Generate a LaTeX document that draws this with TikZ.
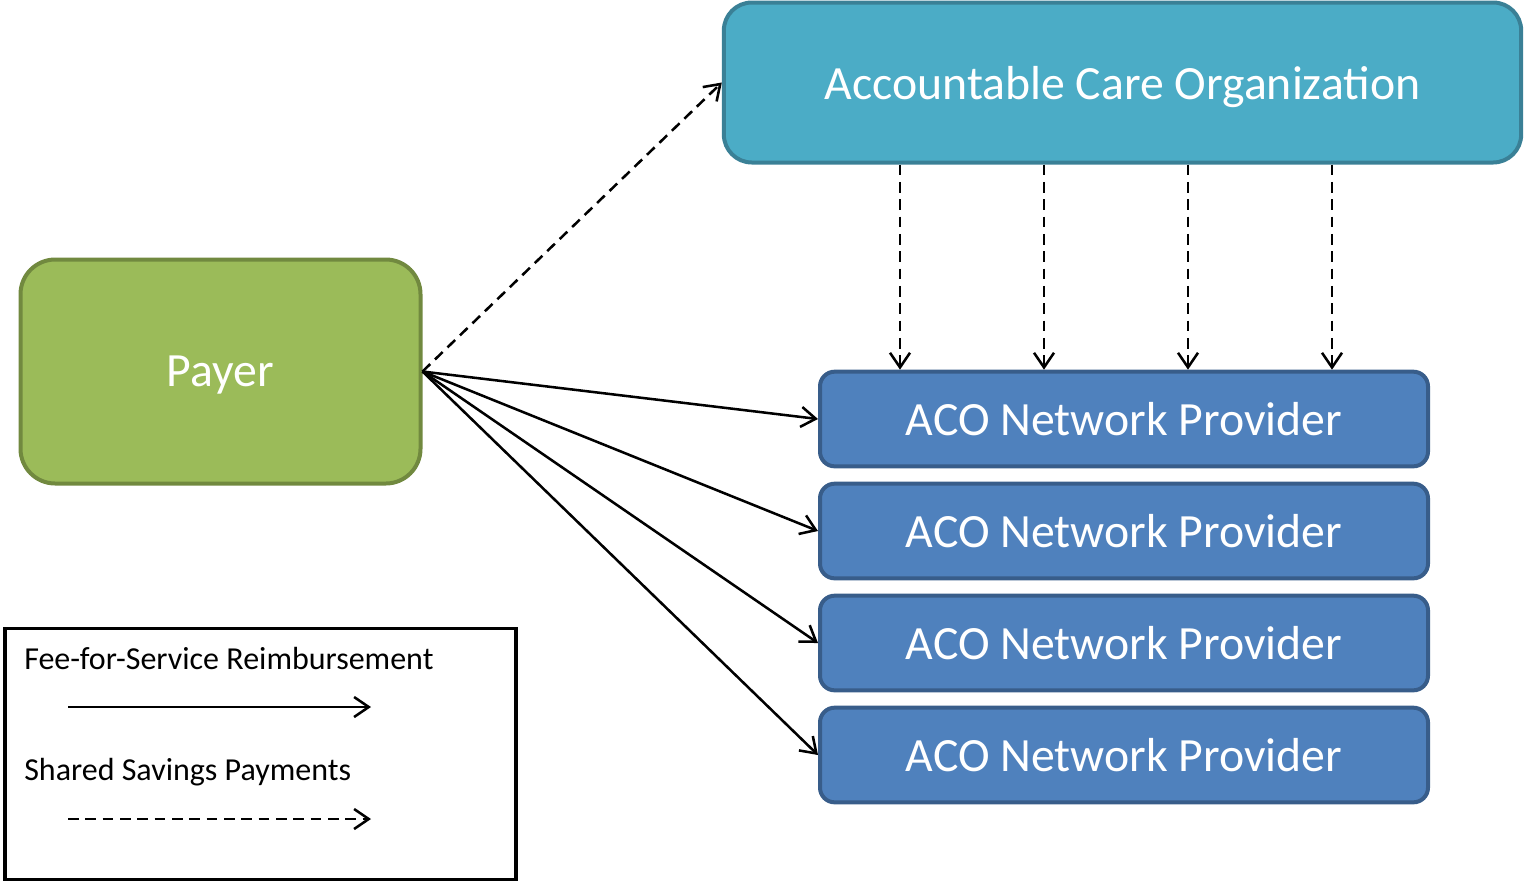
\documentclass[tikz,border=0pt]{standalone}
\usepackage{fontspec}
\setmainfont{Carlito}
\usetikzlibrary{arrows.meta}
\definecolor{acofill}{HTML}{4BACC6}
\definecolor{acoline}{HTML}{3A8096}
\definecolor{payfill}{HTML}{9BBB59}
\definecolor{payline}{HTML}{71893F}
\definecolor{provfill}{HTML}{4F81BD}
\definecolor{provline}{HTML}{385D8A}
\tikzset{
  bigtext/.style={font=\fontsize{35.8pt}{40pt}\selectfont, text=white, text depth=0pt},
  acobox/.style={draw=acoline, fill=acofill, line width=3pt, rounded corners=21pt,
    minimum width=598pt, minimum height=120pt, bigtext},
  paybox/.style={draw=payline, fill=payfill, line width=3pt, rounded corners=26pt,
    minimum width=300pt, minimum height=168pt, bigtext},
  provbox/.style={draw=provline, fill=provfill, line width=3pt, rounded corners=11pt,
    minimum width=456pt, minimum height=71pt, bigtext},
  legbox/.style={draw=black, line width=2.6pt, minimum width=383pt, minimum height=188pt},
  legtext/.style={font=\fontsize{24pt}{28pt}\selectfont, anchor=west, inner sep=0pt},
  tip/.style={-{Straight Barb[length=11pt,width=15pt,line width=1.9pt]}},
  ffs/.style={tip, line width=1.9pt},
  ssp/.style={tip, line width=1.9pt, dash pattern=on 8pt off 5pt},
}
\begin{document}
\begin{tikzpicture}[x=0.75pt,y=-0.75pt]
\useasboundingbox (0,0) rectangle (1524,883);
\node[acobox] (aco) at (1122.5,82.5) {Accountable Care Organization};
\node[paybox] (payer) at (220.5,371.5) {Payer};
\node[provbox] (p1) at (1124,419) {ACO Network Provider};
\node[provbox] (p2) at (1124,531) {ACO Network Provider};
\node[provbox] (p3) at (1124,643) {ACO Network Provider};
\node[provbox] (p4) at (1124,755) {ACO Network Provider};
\node[legbox] (leg) at (260.5,754) {};
\node[legtext] (t1) at (24,658) {Fee-for-Service Reimbursement};
\node[legtext] (t2) at (24,772) {Shared Savings Payments};
\coordinate (l1a) at (68,707);
\coordinate (l1b) at (371,707);
\coordinate (l2a) at (68,819);
\coordinate (l2b) at (371,819);
\coordinate (c1) at (900,0);
\coordinate (c2) at (1044,0);
\coordinate (c3) at (1188,0);
\coordinate (c4) at (1332,0);
% legend arrows
\draw[ffs] (l1a) -- (l1b);
\draw[ssp] (l2a) -- (l2b);
% shared savings
\draw[ssp] (payer.east) -- (aco.west);
\foreach \c in {c1,c2,c3,c4}
  \draw[ssp] (aco.south -| \c) -- (p1.north -| \c);
% fee for service
\foreach \p in {p1,p2,p3,p4}
  \draw[ffs] (payer.east) -- (\p.west);
\end{tikzpicture}
\end{document}
